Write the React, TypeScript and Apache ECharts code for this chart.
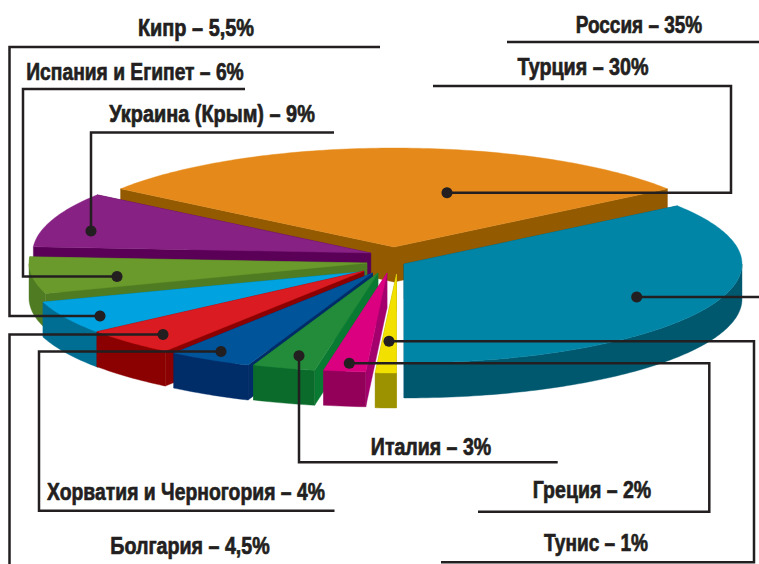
import React, { useEffect, useRef } from "react";
import * as echarts from "echarts";

const countries = ["Турция", "Украина (Крым)", "Испания и Египет", "Кипр", "Болгария", "Хорватия и Черногория", "Италия", "Греция", "Тунис", "Россия"];
const shares = [30, 9, 6, 5.5, 4.5, 4, 3, 2, 1, 35];

const topColors = ["#E58A1A", "#872183", "#6B9A2C", "#00A3E0", "#DA1C22", "#00549A", "#238C3A", "#DA0080", "#F1E000", "#0085A6"];
const sideColors = ["#945A00", "#5B0057", "#4F7C23", "#006E93", "#8B0000", "#002C68", "#0A6B2B", "#93005A", "#9C9200", "#00586F"];
const cutColors = ["#945A00", "#5B0057", "#4F7C23", "#006E93", "#8B0000", "#002C68", "#0A7A32", "#A3006E", "#9C9200", "#00586F"];
const apexes = [[394, 247], [370.7, 253], [367, 263], [364.5, 271.5], [364, 271], [372.5, 273], [378, 273], [387, 273], [396.5, 274], [404, 264]];

const RX = 338, RY = 99, DEPTH = 35, START = -36;

// text position and horizontal squeeze, polyline of the leader, dot
const labelLayout = [
  { x: 583, y: 67, sx: 0.822, line: [[433, 86], [731, 86], [731, 192.7], [447, 192.7]], dot: [447, 192.7] },
  { x: 212, y: 114, sx: 0.829, line: [[334, 132.5], [91, 132.5], [91, 231]], dot: [91, 231] },
  { x: 135, y: 72, sx: 0.802, line: [[245, 89], [23, 89], [23, 276.5], [117, 276.5]], dot: [117, 276.5] },
  { x: 196, y: 28, sx: 0.83, line: [[380, 47], [9.5, 47], [9.5, 316], [100, 316]], dot: [100, 316] },
  { x: 190, y: 546, sx: 0.819, line: [[9.5, 564], [9.5, 334.5], [163, 334.5]], dot: [163, 334.5] },
  { x: 186, y: 492, sx: 0.807, line: [[334.5, 510.7], [39, 510.7], [39, 351.5], [221, 351.5]], dot: [221, 351.5] },
  { x: 431, y: 447, sx: 0.815, line: [[557.7, 462.3], [299, 462.3], [299, 355.7]], dot: [299, 355.7] },
  { x: 592, y: 490, sx: 0.814, line: [[478, 511.7], [709.3, 511.7], [709.3, 363.3], [349.3, 363.3]], dot: [349.3, 363.3] },
  { x: 596, y: 543, sx: 0.795, line: [[441, 562.3], [754, 562.3], [754, 341.2], [389, 341.2]], dot: [389, 341.2] },
  { x: 639, y: 25, sx: 0.791, line: [[507, 42], [759, 42]], dot: null, extra: [[759, 297], [636.7, 297]], extraDot: [636.7, 297] },
];

const INK = "#231F20";
const rad = (d: number) => (d * Math.PI) / 180;
const total = shares.reduce((a, b) => a + b, 0);
const startAngles = shares.map((_, i) => START - (shares.slice(0, i).reduce((a, b) => a + b, 0) / total) * 360);

function renderSlice(params: any, api: any) {
  const i = params.dataIndex;
  const sweep = (api.value(0) / total) * 360;
  const a0 = startAngles[i];
  const a1 = a0 - sweep;
  const [cx, cy] = apexes[i];
  const pt = (a: number): number[] => [cx + RX * Math.cos(rad(a)), cy + RY * Math.sin(rad(a))];
  const arc: number[] = [];
  for (let a = a0; a > a1; a -= 1) arc.push(a);
  arc.push(a1);
  const rim = arc.map(pt);
  const poly = (points: number[][], fill: string) => ({
    type: "polygon",
    shape: { points },
    style: { fill, stroke: fill, lineWidth: 0.4 },
  });
  const down = (p: number[]) => [p[0], p[1] + DEPTH];
  const apex = [cx, cy];
  const children: any[] = [];
  const pStart = pt(a0);
  const pEnd = pt(a1);
  children.push(poly([apex, pStart, down(pStart), down(apex)], cutColors[i]));
  children.push(poly([apex, pEnd, down(pEnd), down(apex)], cutColors[i]));
  const front = arc.filter((a) => Math.sin(rad(a)) >= -1e-6).map(pt);
  if (front.length > 1) {
    children.push(poly([...front, ...front.slice().reverse().map(down)], sideColors[i]));
  }
  children.push(poly([apex, ...rim], topColors[i]));
  return { type: "group", children };
}

function formatShare(v: number) {
  return String(v).replace(".", ",");
}

export default function App() {
  const ref = useRef<HTMLDivElement>(null);
  useEffect(() => {
    document.body.style.margin = "0";
    const chart = echarts.init(ref.current!, null, { renderer: "svg" });
    const lineStyle = { stroke: INK, fill: "none", lineWidth: 2.5 };
    const elements: any[] = [];
    labelLayout.forEach((l: any, i) => {
      elements.push({
        type: "text",
        x: l.x,
        y: l.y,
        scaleX: l.sx,
        style: {
          text: `${countries[i]} – ${formatShare(shares[i])}%`,
          fill: INK,
          stroke: INK,
          lineWidth: 0.7,
          font: 'bold 24px "Liberation Sans", sans-serif',
          textAlign: "center",
          textVerticalAlign: "middle",
        },
      });
      elements.push({ type: "polyline", shape: { points: l.line }, style: lineStyle });
      if (l.extra) elements.push({ type: "polyline", shape: { points: l.extra }, style: lineStyle });
      const d = l.dot || l.extraDot;
      if (d) elements.push({ type: "circle", shape: { cx: d[0], cy: d[1], r: 5.5 }, style: { fill: INK } });
    });
    chart.setOption({
      animation: false,
      backgroundColor: "#FFFFFF",
      graphic: { elements: elements.map((e) => ({ ...e, z: 100 })) },
      series: [
        {
          type: "custom",
          coordinateSystem: "none",
          renderItem: renderSlice,
          data: shares,
          silent: true,
        },
      ],
    });
    return () => chart.dispose();
  }, []);
  return <div ref={ref} style={{ width: 759, height: 564 }} />;
}
